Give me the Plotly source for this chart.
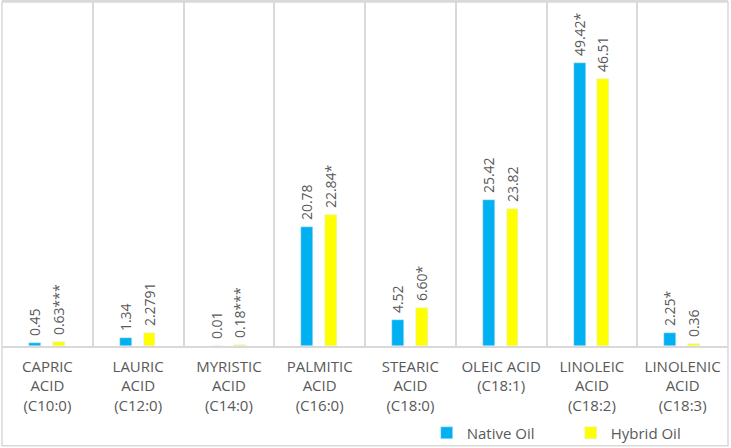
import plotly.graph_objects as go

# Fatty acid composition, native vs hybrid oil
categories = [
    "CAPRIC<br>ACID<br>(C10:0)",
    "LAURIC<br>ACID<br>(C12:0)",
    "MYRISTIC<br>ACID<br>(C14:0)",
    "PALMITIC<br>ACID<br>(C16:0)",
    "STEARIC<br>ACID<br>(C18:0)",
    "OLEIC ACID<br>(C18:1)",
    "LINOLEIC<br>ACID<br>(C18:2)",
    "LINOLENIC<br>ACID<br>(C18:3)",
]
native_oil = [0.45, 1.34, 0.01, 20.78, 4.52, 25.42, 49.42, 2.25]
hybrid_oil = [0.63, 2.2791, 0.18, 22.84, 6.60, 23.82, 46.51, 0.36]
native_labels = ["0.45", "1.34", "0.01", "20.78", "4.52", "25.42", "49.42*", "2.25*"]
hybrid_labels = ["0.63***", "2.2791", "0.18***", "22.84*", "6.60*", "23.82", "46.51", "0.36"]

grey = "#595959"
font_family = "Open Sans, Liberation Sans, sans-serif"

fig = go.Figure()
for name, vals, labels, colour, off in [
    ("Native Oil", native_oil, native_labels, "#00B0F0", -0.2),
    ("Hybrid Oil", hybrid_oil, hybrid_labels, "#FFFF00", 0.06),
]:
    fig.add_trace(go.Bar(
        x=categories, y=vals, name=name,
        marker_color=colour, width=0.13, offset=off,
        text=[" " + t for t in labels], textposition="outside", textangle=-90,
        constraintext="none", cliponaxis=False,
        textfont=dict(size=14, color=grey, family=font_family),
    ))

# outer chart border
fig.add_shape(type="rect", xref="paper", yref="paper",
              x0=0, x1=1.0, y0=-0.29, y1=1.0,
              line=dict(color="#D9D9D9", width=1.5), layer="below")

fig.update_layout(
    width=731, height=448,
    margin=dict(l=2, r=3, t=2, b=102, autoexpand=False),
    paper_bgcolor="white", plot_bgcolor="white",
    font=dict(family=font_family, color=grey, size=15),
    showlegend=True,
    legend=dict(orientation="h", x=0.585, xanchor="left", y=-0.253, yanchor="middle",
                font=dict(size=15, color=grey), entrywidth=99, entrywidthmode="pixels",
                bgcolor="rgba(0,0,0,0)"),
    bargap=0, barmode="group",
)
fig.update_xaxes(
    tickson="boundaries", showgrid=True, gridcolor="#D9D9D9", gridwidth=1.5,
    ticks="", showline=True, linecolor="#D9D9D9", linewidth=1.5, mirror=True,
    tickfont=dict(size=15, color=grey), tickangle=0, ticklabelstandoff=6,
)
fig.update_yaxes(range=[0, 60], visible=False, showgrid=False, zeroline=False)

# drop the browser's default body margin so the chart sits at the page corner
fig.write_html("out.html", config={"displayModeBar": False},
               post_script="document.body.style.margin='0';")
